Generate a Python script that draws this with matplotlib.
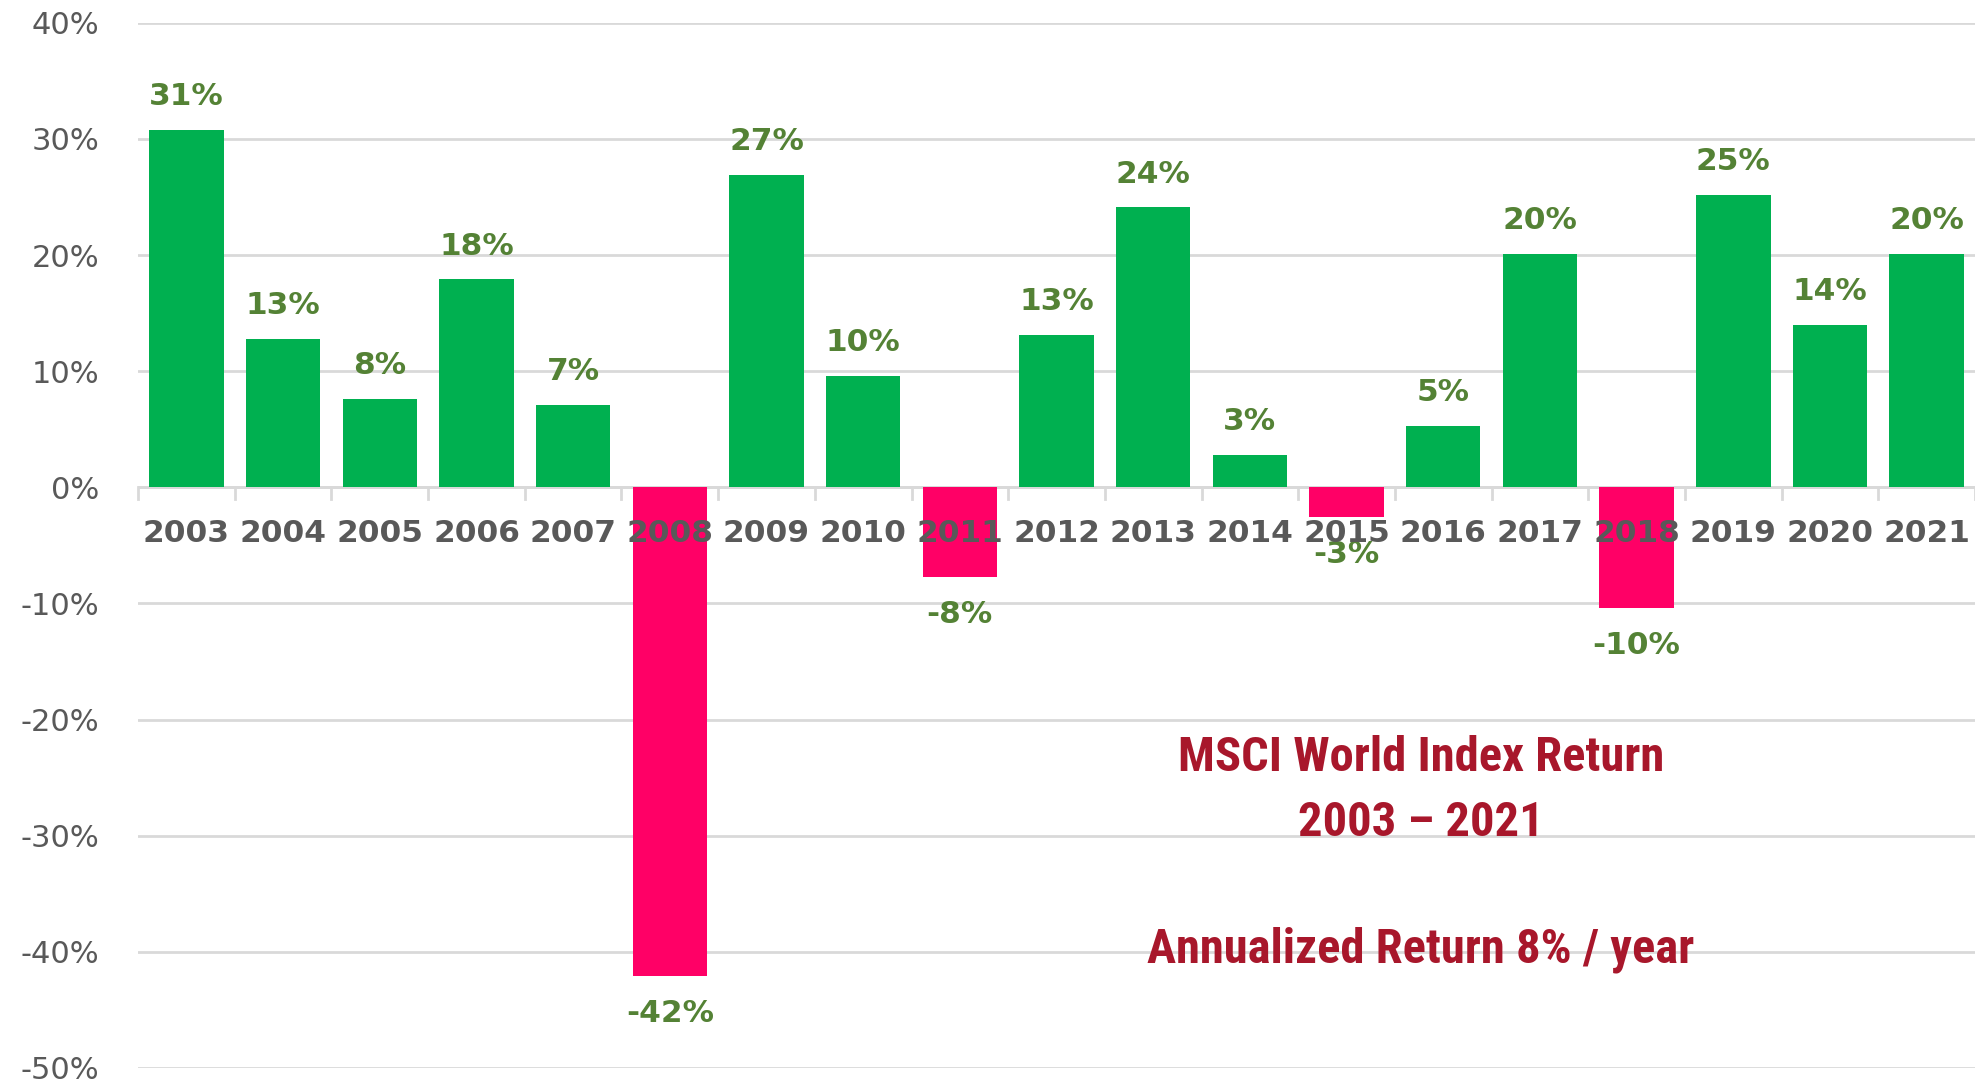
import numpy as np
import matplotlib
matplotlib.use("Agg")
import matplotlib.pyplot as plt
from matplotlib import font_manager

# data
years   = ["2003", "2004", "2005", "2006", "2007", "2008", "2009", "2010", "2011", "2012",
           "2013", "2014", "2015", "2016", "2017", "2018", "2019", "2020", "2021"]
returns = [30.8, 12.8, 7.6, 17.9, 7.1, -42.1, 26.9, 9.6, -7.7, 13.1,
           24.1, 2.8, -2.6, 5.3, 20.1, -10.4, 25.2, 14.0, 20.1]
labels  = ["31%", "13%", "8%", "18%", "7%", "-42%", "27%", "10%", "-8%", "13%",
           "24%", "3%", "-3%", "5%", "20%", "-10%", "25%", "14%", "20%"]
yticks  = [40, 30, 20, 10, 0, -10, -20, -30, -40, -50]

title_lines = ["MSCI World Index Return", "2003 \u2013 2021", "Annualized Return 8% / year"]
title_y     = [-23.3, -28.9, -39.8]

green  = "#00B050"
pink   = "#FF0066"
lblcol = "#548235"
grey   = "#595959"
grid_c = "#D9D9D9"
red    = "#A8172B"

# pick a narrow bold font for the red note, if one is installed
narrow = None
for fam in ["Liberation Sans Narrow", "Roboto Condensed", "DejaVu Sans Condensed",
            "Open Sans Condensed"]:
    try:
        font_manager.findfont(font_manager.FontProperties(family=fam, weight="bold"),
                              fallback_to_default=False)
        narrow = fam
        break
    except ValueError:
        pass
if narrow == "Liberation Sans Narrow":
    note_size = 32
elif narrow is not None:
    note_size = 35
else:
    narrow = "Liberation Sans"
    note_size = 26

plt.rcParams['font.family'] = ['DejaVu Sans']

fig = plt.figure(figsize=(19.75, 10.83), dpi=100)
ax = fig.add_axes([0.0699, 0.0139, 0.9301, 0.9651])

x = np.arange(len(years))
colors = [green if v >= 0 else pink for v in returns]
ax.bar(x, returns, width=0.77, color=colors, zorder=2)

# value labels
for i, v in enumerate(returns):
    off = 24 if v >= 0 else -27
    ax.annotate(labels[i], (i, v), xytext=(0, off), textcoords="offset points",
                ha="center", va="center", fontsize=22.5, fontweight="bold",
                color=lblcol, zorder=10)

# year labels (drawn on top of bars)
for i, yr in enumerate(years):
    ax.annotate(yr, (i, 0), xytext=(0, -33), textcoords="offset points",
                ha="center", va="center", fontsize=22.5, fontweight="bold",
                color=grey, zorder=10)

ax.set_xlim(-0.5, len(years) - 0.5)
ax.set_ylim(-50, 40)
ax.set_yticks(yticks)
ax.set_yticklabels(["{}%".format(t) for t in yticks])
ax.tick_params(axis="y", length=0, pad=28, labelsize=22, labelcolor=grey)
ax.yaxis.grid(True, color=grid_c, linewidth=2)
ax.set_axisbelow(True)

ax.set_xticks([])
for b in np.arange(-0.5, len(years)):
    ax.plot([b, b], [0, -1.0], color=grid_c, linewidth=2, zorder=1, clip_on=False)
ax.axhline(0, color=grid_c, linewidth=2, zorder=1)

for s in ax.spines.values():
    s.set_visible(False)

for t, yy in zip(title_lines, title_y):
    ax.text(12.77, yy, t, ha="center", va="center", fontsize=note_size, fontweight="bold",
            color=red, family=[narrow, "DejaVu Sans"], zorder=10)

fig.savefig("out.png", dpi=100)
